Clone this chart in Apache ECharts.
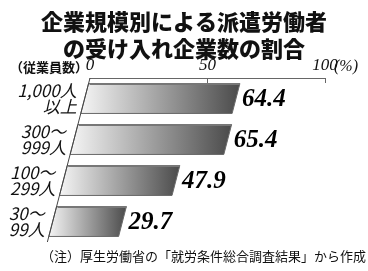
<!DOCTYPE html>
<html><head><meta charset="utf-8">
<script src="https://cdn.jsdelivr.net/npm/echarts@6/dist/echarts.min.js"></script>
<style>html,body{margin:0;padding:0;background:#fff}#c{width:368px;height:271px}</style>
</head><body><div id="c"></div>
<script>
const categories = ['1,000人\n以上', '300～\n999人', '100～\n299人', '30～\n99人'];
const values = [64.4, 65.4, 47.9, 29.7];
const tickValues = [0, 50, 100];
const titleText = '企業規模別による派遣労働者\nの受け入れ企業数の割合';
const unitText = '（従業員数）';
const noteText = '（注）厚生労働省の「就労条件総合調査結果」から作成';

const K = 0.26;
const chart = echarts.init(document.getElementById('c'), null, {renderer: 'canvas'});
const data = values.map((v, i) => [v, i]);

function renderItem(params, api) {
  const v = api.value(0), idx = api.value(1);
  const top0 = params.coordSys.y;
  const c0 = api.coord([0, idx]);
  const c1 = api.coord([v, idx]);
  const band = api.size([0, 1])[1];
  const h = band * 0.73;
  const t = c0[1] - h / 2, b = c0[1] + h / 2;
  const sk = (x, y) => x - K * (y - top0);
  const bt = c0[1] - band / 2, bb = c0[1] + band / 2;
  return {
    type: 'group',
    children: [
      {type: 'polygon', shape: {points: [[sk(c0[0], t), t], [sk(c1[0], t), t], [sk(c1[0], b), b], [sk(c0[0], b), b]]},
       style: {fill: new echarts.graphic.LinearGradient(0, 0, 1, 0, [{offset: 0, color: '#f6f6f6'}, {offset: 1, color: '#4a4a4a'}]),
               stroke: '#6a6a6a', lineWidth: 1}},
      {type: 'line', shape: {x1: sk(c0[0], t) + 1, y1: t + 0.5, x2: sk(c1[0], t), y2: t + 0.5}, style: {stroke: '#777', lineWidth: 2}},
      {type: 'line', shape: {x1: sk(c0[0], bt), y1: bt, x2: sk(c0[0], bb), y2: bb}, style: {stroke: '#444', lineWidth: 1}},
      {type: 'text', x: sk(c0[0], c0[1]) - 8, y: c0[1],
       style: {text: categories[idx], align: 'right', verticalAlign: 'middle', fontSize: 17, lineHeight: 16,
               fontStyle: 'italic', fontFamily: 'Noto Sans CJK JP', fill: '#111'}},
      {type: 'text', x: sk(c1[0], c0[1]) + 6, y: c0[1] + 1,
       style: {text: v.toFixed(1), align: 'left', verticalAlign: 'middle', fontSize: 25, fontWeight: 'bold',
               fontStyle: 'italic', fontFamily: 'Liberation Serif', fill: '#000'}}
    ]
  };
}

chart.setOption({
  animation: false,
  title: {text: titleText, left: 'center', top: 3,
          textStyle: {fontSize: 22, fontWeight: 900, lineHeight: 27, fontFamily: 'Noto Sans CJK JP', color: '#111'}},
  grid: {left: 90, right: 43, top: 78, bottom: 29, containLabel: false},
  xAxis: {type: 'value', position: 'top', min: 0, max: 100,
          axisLine: {show: true, lineStyle: {color: '#666', width: 1}},
          axisTick: {show: true, inside: true, length: 5, customValues: [50, 100], lineStyle: {color: '#666'}},
          axisLabel: {customValues: tickValues, margin: 4, fontSize: 17, fontStyle: 'italic', fontFamily: 'Liberation Serif', color: '#111'},
          splitLine: {show: false}},
  yAxis: {type: 'category', data: categories, inverse: true, show: false},
  graphic: [
    {type: 'text', left: 10, top: 61, style: {text: unitText, fontSize: 13, fontWeight: 'bold', fontFamily: 'Noto Sans CJK JP', fill: '#111'}},
    {type: 'text', left: 334, top: 59, style: {text: '(%)', fontSize: 16, fontStyle: 'italic', fontFamily: 'Liberation Serif', fill: '#111'}},
    {type: 'text', right: 2, top: 250, style: {text: noteText, fontSize: 13, fontFamily: 'Noto Sans CJK JP', fill: '#111'}}
  ],
  series: [{type: 'custom', renderItem: renderItem, data: data, encode: {x: 0, y: 1}, clip: false}]
});
</script></body></html>
